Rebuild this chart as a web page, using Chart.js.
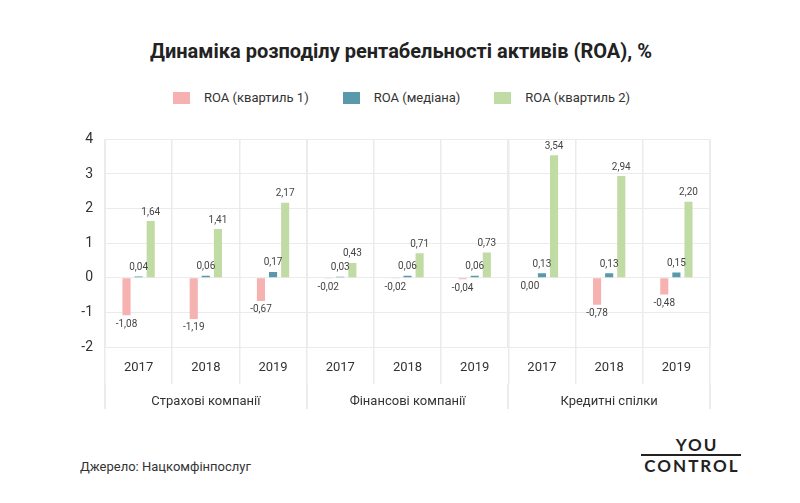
<!DOCTYPE html>
<html>
<head>
<meta charset="utf-8">
<script src="https://cdn.jsdelivr.net/npm/chart.js@4"></script>
<style>
  body { margin:0; width:800px; height:503px; background:#fff; font-family:Roboto, sans-serif; color:#333; position:relative; overflow:hidden; }
  #title { position:absolute; left:0; top:40px; width:802px; text-align:center; font-size:20px; font-weight:bold; color:#222; line-height:22px; }
  #legend { position:absolute; left:0; top:89px; width:803px; display:flex; justify-content:center; gap:34px; font-size:13px; line-height:18px; }
  #legend .item { display:flex; align-items:center; }
  #legend .box { width:17px; height:12px; margin-right:14px; }
  #wrap { position:absolute; left:0; top:119px; width:720px; height:292px; }
  #source { position:absolute; left:80px; top:458px; font-size:13px; line-height:18px; color:#333; }
  #logo { position:absolute; left:641px; top:436px; width:100px; font-family:Lato, sans-serif; font-weight:bold; color:#222; text-align:center; }
  #logo .you { font-size:17px; line-height:18px; letter-spacing:2px; padding-left:12px; border-bottom:2px solid #222; }
  #logo .ctl { font-size:17px; line-height:20px; letter-spacing:2px; padding-left:2px; }
</style>
</head>
<body>
<div id="title">Динаміка розподілу рентабельності активів (ROA), %</div>
<div id="legend"></div>
<div id="wrap"><canvas id="roaChart"></canvas></div>
<div id="source">Джерело: Нацкомфінпослуг</div>
<div id="logo"><div class="you">YOU</div><div class="ctl">CONTROL</div></div>
<script>
/* ==========================================================
   DATA
========================================================== */

const years = ["2017", "2018", "2019", "2017", "2018", "2019", "2017", "2018", "2019"];

const groups = ["Страхові компанії", "Фінансові компанії", "Кредитні спілки"];

const seriesNames = ["ROA (квартиль 1)", "ROA (медіана)", "ROA (квартиль 2)"];

const quartile1 = [-1.08, -1.19, -0.67, -0.02, -0.02, -0.04, 0.00, -0.78, -0.48];

const median = [0.04, 0.06, 0.17, 0.03, 0.06, 0.06, 0.13, 0.13, 0.15];

const quartile2 = [1.64, 1.41, 2.17, 0.43, 0.71, 0.73, 3.54, 2.94, 2.20];

const colours = ["#f6b2b1", "#5a99aa", "#c0dca4"];

const gridColour = "#ebebeb";

/* ==========================================================
   HELPERS
========================================================== */

function formatValue(v){
    return v.toFixed(2).replace(".", ",");
}

const valueLabels = {
    id: "valueLabels",
    afterDatasetsDraw(chart){
        const ctx = chart.ctx;
        ctx.save();
        ctx.font = "10px Roboto";
        ctx.fillStyle = "#444";
        ctx.textAlign = "center";
        ctx.textBaseline = "middle";
        chart.data.datasets.forEach((ds, i) => {
            chart.getDatasetMeta(i).data.forEach((bar, j) => {
                const v = ds.data[j];
                const y = v > 0 ? bar.y - 9 : bar.y + 9;
                ctx.fillText(formatValue(v), bar.x, y);
            });
        });
        ctx.restore();
    }
};

// legend in html
const legend = document.getElementById("legend");
seriesNames.forEach((name, i) => {
    const item = document.createElement("div");
    item.className = "item";
    item.innerHTML = '<span class="box" style="background:' + colours[i] + '"></span>' + name;
    legend.appendChild(item);
});

/* ==========================================================
   CHART
========================================================== */

Chart.defaults.font.family = "Roboto, sans-serif";
Chart.defaults.color = "#333";

new Chart(document.getElementById("roaChart").getContext("2d"), {
    type: "bar",
    data: {
        labels: years,
        datasets: [quartile1, median, quartile2].map((d, i) => ({
            label: seriesNames[i],
            data: d,
            backgroundColor: colours[i],
            categoryPercentage: 0.54,
            barPercentage: 0.67
        }))
    },
    options: {
        responsive: true,
        maintainAspectRatio: false,
        animation: false,
        layout: { padding: { top: 0, right: 10, bottom: 2, left: 0 } },
        plugins: {
            legend: { display: false },
            tooltip: { enabled: false }
        },
        scales: {
            y: {
                min: -2,
                max: 4,
                ticks: { stepSize: 1, padding: 12, font: { size: 14 }, color: "#333" },
                grid: { color: gridColour, drawTicks: false },
                border: { display: false },
                afterFit(scale){ scale.width = 105; }
            },
            x: {
                weight: 0,
                grid: { offset: true, color: gridColour, lineWidth: 1.5, tickLength: 37 },
                border: { display: false },
                ticks: { padding: -24, font: { size: 13 }, color: "#333" },
                afterFit(scale){ scale.height = 37; }
            },
            x2: {
                axis: "x",
                type: "category",
                position: "bottom",
                weight: 1,
                labels: groups,
                offset: true,
                grid: { offset: true, color: gridColour, lineWidth: 2, tickLength: 25 },
                border: { display: false },
                ticks: { padding: -15, font: { size: 13 }, color: "#333" },
                afterFit(scale){ scale.height = 25; }
            }
        }
    },
    plugins: [valueLabels]
});
</script>
</body>
</html>
